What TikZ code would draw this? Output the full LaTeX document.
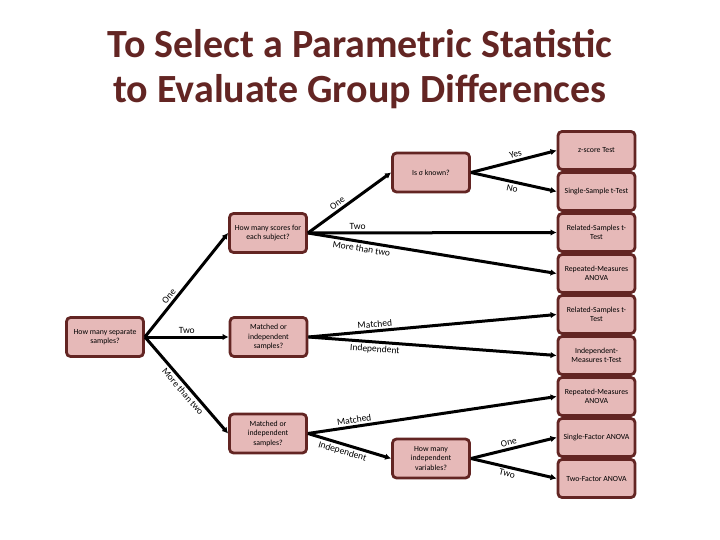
\documentclass[tikz,border=0pt]{standalone}
\usepackage{fontspec}
\setmainfont{Carlito}
\usetikzlibrary{arrows.meta}
\definecolor{boxfill}{HTML}{E6B9B8}
\definecolor{boxline}{HTML}{632523}
\definecolor{titlecol}{HTML}{632523}
\begin{document}
\begin{tikzpicture}[x=1pt,y=-1pt,
  qbox/.style={draw=boxline,fill=boxfill,line width=2.8pt,rounded corners=4pt,
    minimum width=77pt,minimum height=39pt,inner sep=1pt,align=center,
    font=\fontsize{7.8}{9.5}\selectfont},
  obox/.style={qbox,minimum height=38pt},
  conn/.style={draw=black,line width=3pt,-{Latex[length=6pt,width=6.5pt]}},
  lab/.style={font=\fontsize{9.5}{11}\selectfont,sloped,inner sep=2pt}]
\useasboundingbox (0,0) rectangle (720,540);
% title
\node[font=\fontsize{40}{45}\selectfont\bfseries,text=titlecol,align=center] (title) at (360,69)
  {To Select a Parametric Statistic\\to Evaluate Group Differences};
% question boxes
\node[qbox] (sep) at (105,337) {How many separate\\samples?};
\node[qbox] (hs) at (268,233) {How many scores for\\each subject?};
\node[qbox] (sig) at (431,172.5) {Is σ known?};
\node[qbox] (mi1) at (268.5,337) {Matched or\\independent\\samples?};
\node[qbox] (mi2) at (268,433.5) {Matched or\\independent\\samples?};
\node[qbox] (iv) at (431,458.5) {How many\\independent\\variables?};
% output boxes
\node[obox] (o1) at (596.5,150.5) {z-score Test};
\node[obox] (o2) at (596.5,191.5) {Single-Sample t-Test};
\node[obox] (o3) at (596.5,232.5) {Related-Samples t-\\Test};
\node[obox] (o4) at (596.5,273.5) {Repeated-Measures\\ANOVA};
\node[obox] (o5) at (596.5,314.5) {Related-Samples t-\\Test};
\node[obox] (o6) at (596.5,355.5) {Independent-\\Measures t-Test};
\node[obox] (o7) at (596.5,396.5) {Repeated-Measures\\ANOVA};
\node[obox] (o8) at (596.5,437.5) {Single-Factor ANOVA};
\node[obox] (o9) at (596.5,478.5) {Two-Factor ANOVA};
% connectors
\draw[conn] (sep.east) -- node[lab,pos=0.35,above] {One} (hs.west);
\draw[conn] (sep.east) -- node[lab,pos=0.5,above] {Two} (mi1.west);
\draw[conn] (sep.east) -- node[lab,pos=0.52,below] {More than two} (mi2.west);
\draw[conn] (hs.east) -- node[lab,pos=0.4,above] {One} (sig.west);
\draw[conn] (hs.east) -- node[lab,pos=0.2,above] {Two} (o3.west);
\draw[conn] (hs.east) -- node[lab,pos=0.22,below] {More than two} (o4.west);
\draw[conn] (sig.east) -- node[lab,pos=0.54,above] {Yes} (o1.west);
\draw[conn] (sig.east) -- node[lab,pos=0.5,below] {No} (o2.west);
\draw[conn] (mi1.east) -- node[lab,pos=0.27,above] {Matched} (o5.west);
\draw[conn] (mi1.east) -- node[lab,pos=0.27,below] {Independent} (o6.west);
\draw[conn] (mi2.east) -- node[lab,pos=0.19,above] {Matched} (o7.west);
\draw[conn] (mi2.east) -- node[lab,pos=0.44,below] {Independent} (iv.west);
\draw[conn] (iv.east) -- node[lab,pos=0.46,above] {One} (o8.west);
\draw[conn] (iv.east) -- node[lab,pos=0.44,below] {Two} (o9.west);
\end{tikzpicture}
\end{document}
